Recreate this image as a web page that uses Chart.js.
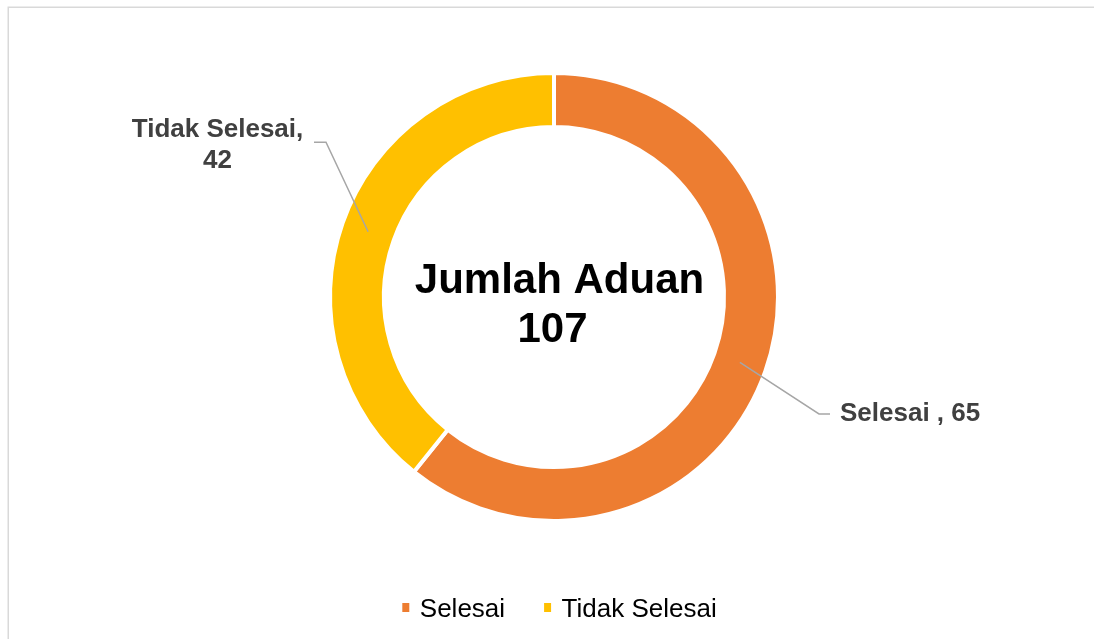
<!DOCTYPE html>
<html>
<head>
<meta charset="utf-8">
<script src="https://cdn.jsdelivr.net/npm/chart.js@4.4.0/dist/chart.umd.min.js"></script>
<style>
  html, body { margin: 0; padding: 0; background: #ffffff; overflow: hidden; }
  #wrap { width: 1094px; height: 639px; position: relative; }
</style>
</head>
<body>
<div id="wrap"><canvas id="c"></canvas></div>
<script>
// Complaint status counts
const categories = ['Selesai ', 'Tidak Selesai'];
const counts = [65, 42];
const sliceColors = ['#ED7D31', '#FFC000'];
const centerTitle = 'Jumlah Aduan';

const FONT = '"Liberation Sans", Arial, Helvetica, sans-serif';

// Leader line / label placement per slice, relative to the ring centre
const labelLayout = [
  { elbow: [265, 117], end: [276, 117], text: [286, 117], align: 'left', split: false },
  { elbow: [-228, -154.7], end: [-240, -154.7], text: [-336.5, -160.3], align: 'center', split: true }
];

const framePlugin = {
  id: 'frame',
  beforeDraw(chart) {
    const ctx = chart.ctx;
    ctx.save();
    ctx.strokeStyle = '#D9D9D9';
    ctx.lineWidth = 1.5;
    ctx.strokeRect(8.25, 7.25, 1300, 900);
    ctx.restore();
  }
};

const annotatePlugin = {
  id: 'annotate',
  afterDatasetsDraw(chart) {
    const ctx = chart.ctx;
    const meta = chart.getDatasetMeta(0);
    const cx = meta.data[0].x;
    const cy = meta.data[0].y;
    const values = chart.data.datasets[0].data;
    const total = values.reduce((a, b) => a + b, 0);

    ctx.save();
    // leader lines and slice labels
    meta.data.forEach((arc, i) => {
      const lay = labelLayout[i];
      const p = arc.getCenterPoint();
      ctx.strokeStyle = '#A6A6A6';
      ctx.lineWidth = 1.5;
      ctx.beginPath();
      ctx.moveTo(p.x, p.y);
      ctx.lineTo(cx + lay.elbow[0], cy + lay.elbow[1]);
      ctx.lineTo(cx + lay.end[0], cy + lay.end[1]);
      ctx.stroke();

      ctx.fillStyle = '#404040';
      ctx.font = 'bold 26px ' + FONT;
      ctx.textAlign = lay.align;
      const name = chart.data.labels[i];
      if (lay.split) {
        ctx.textBaseline = 'alphabetic';
        ctx.fillText(name + ',', cx + lay.text[0], cy + lay.text[1]);
        ctx.fillText(String(values[i]), cx + lay.text[0], cy + lay.text[1] + 31.6);
      } else {
        ctx.textBaseline = 'middle';
        ctx.fillText(name + ', ' + values[i], cx + lay.text[0], cy + lay.text[1]);
      }
    });

    // centre title with total
    ctx.fillStyle = '#000000';
    ctx.font = 'bold 42px ' + FONT;
    ctx.textAlign = 'center';
    ctx.textBaseline = 'alphabetic';
    ctx.fillText(centerTitle, cx + 5.5, cy - 3.7);
    ctx.fillText(String(total), cx - 1.5, cy + 44.7);

    // legend
    ctx.font = '26px ' + FONT;
    ctx.textAlign = 'left';
    const boxW = 7, boxH = 9, boxGap = 10.5, itemGap = 39;
    const widths = chart.data.labels.map(l => ctx.measureText(l.trim()).width);
    const totalW = widths.reduce((s, w) => s + boxW + boxGap + w, 0) + itemGap * (widths.length - 1);
    let x = 559.5 - totalW / 2;
    const baseY = 617.3;
    chart.data.labels.forEach((l, i) => {
      ctx.fillStyle = sliceColors[i];
      ctx.fillRect(x, 603, boxW, boxH);
      x += boxW + boxGap;
      ctx.fillStyle = '#000000';
      ctx.fillText(l.trim(), x, baseY);
      x += widths[i] + itemGap;
    });
    ctx.restore();
  }
};

new Chart(document.getElementById('c'), {
  type: 'doughnut',
  data: {
    labels: categories,
    datasets: [{
      data: counts,
      backgroundColor: sliceColors,
      borderColor: '#FFFFFF',
      borderWidth: 4,
      hoverOffset: 0
    }]
  },
  options: {
    responsive: true,
    maintainAspectRatio: false,
    animation: false,
    radius: 224,
    cutout: '75.9%',
    layout: { padding: { left: 14, right: 0, top: 0, bottom: 45 } },
    plugins: {
      legend: { display: false },
      tooltip: { enabled: false }
    }
  },
  plugins: [framePlugin, annotatePlugin]
});
</script>
</body>
</html>
